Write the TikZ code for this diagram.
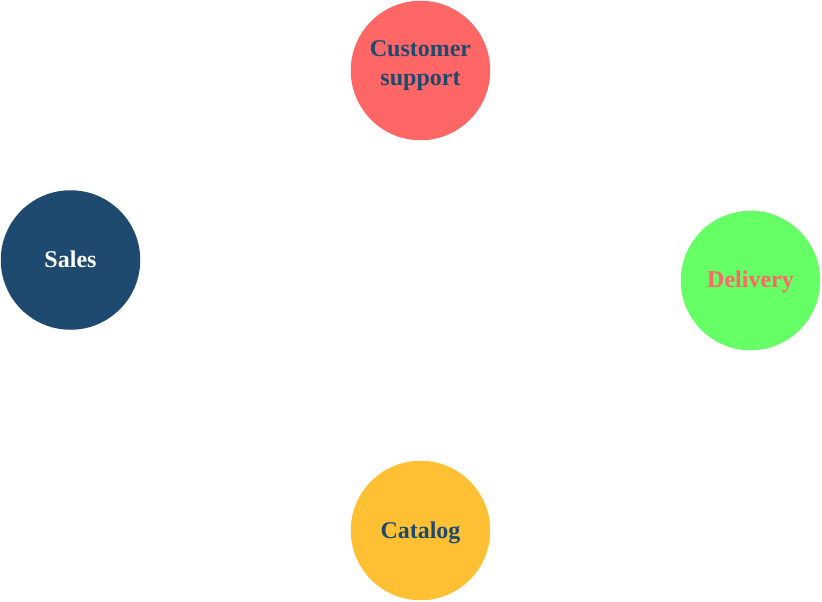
\documentclass[tikz,border=0pt]{standalone}
\usepackage{fontspec}
\setmainfont{Liberation Serif}
\definecolor{navy}{HTML}{1F4A6F}
\definecolor{salmon}{HTML}{FF6666}
\definecolor{lgreen}{HTML}{66FF66}
\definecolor{amber}{HTML}{FFC133}
\newcommand\bline[2][0pt]{\raisebox{#1}[0pt][0pt]{#2}}
\begin{document}
\begin{tikzpicture}[x=1pt,y=-1pt,
  bubble/.style={circle,minimum size=139.5pt,inner sep=0pt,align=center,
    font=\fontsize{24}{29}\selectfont\bfseries}]
\useasboundingbox (0,0) rectangle (822,602);
\node[bubble,fill=salmon,text=navy] (cs) at (420.5,70.5) {\bline{Customer}\\\bline{support}};
\node[bubble,fill=navy,text=white] (sales) at (70.5,260) {\bline[-7.5pt]{Sales}};
\node[bubble,fill=lgreen,text=salmon] (del) at (750.5,280.5) {\bline[-7.3pt]{Delivery}};
\node[bubble,fill=amber,text=navy] (cat) at (420.5,530.5) {\bline[-7.5pt]{Catalog}};
\end{tikzpicture}
\end{document}
